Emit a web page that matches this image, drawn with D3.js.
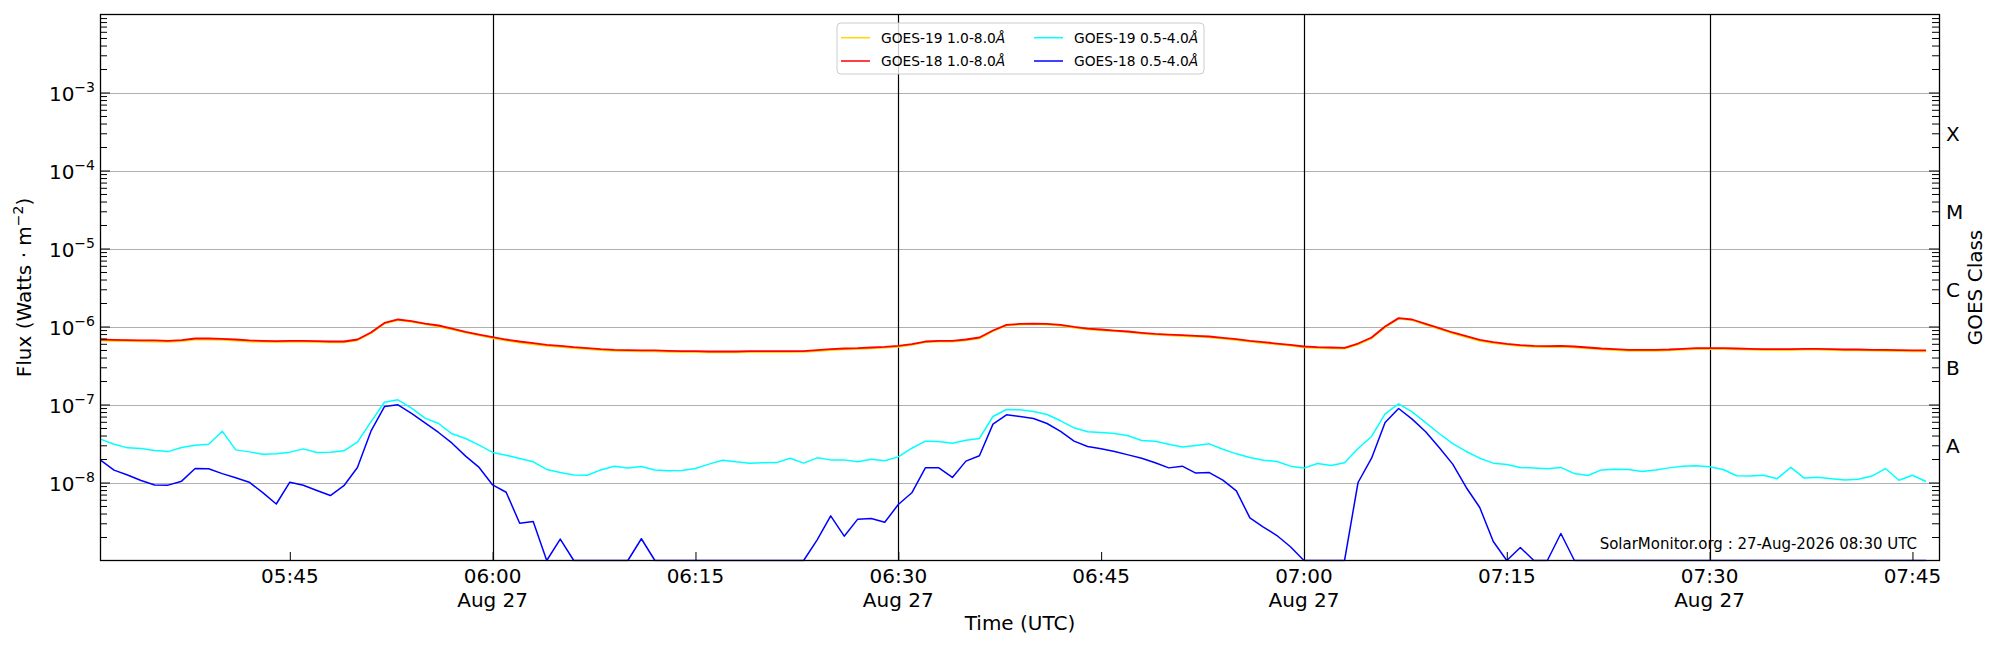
<!DOCTYPE html>
<html>
<head>
<meta charset="utf-8">
<script src="https://cdn.jsdelivr.net/npm/d3@7"></script>
<style>
body { margin: 0; background: #fff; }
svg { display: block; font-family: "DejaVu Sans", sans-serif; }
</style>
</head>
<body>
<svg id="chart" width="2000" height="650"></svg>
<script>
/* donnees : un point par minute a partir de 05:31 UTC */
var startTime = "2026-08-27T05:31:00Z";
var cadenceMin = 1;
var xDomain = ["2026-08-27T05:31:00Z", "2026-08-27T07:47:00Z"];
var yDomain = [1e-9, 1e-2];

var goes19Long = [
    6.60e-7, 6.55e-7, 6.50e-7, 6.45e-7, 6.40e-7, 6.35e-7, 6.50e-7, 6.80e-7, 6.80e-7, 6.75e-7,
    6.60e-7, 6.40e-7, 6.35e-7, 6.30e-7, 6.35e-7, 6.35e-7, 6.30e-7, 6.25e-7, 6.25e-7, 6.65e-7,
    8.20e-7, 1.09e-6, 1.21e-6, 1.15e-6, 1.07e-6, 1.00e-6, 9.20e-7, 8.35e-7, 7.70e-7, 7.10e-7,
    6.60e-7, 6.20e-7, 5.90e-7, 5.65e-7, 5.50e-7, 5.28e-7, 5.12e-7, 4.97e-7, 4.88e-7, 4.83e-7,
    4.79e-7, 4.79e-7, 4.74e-7, 4.70e-7, 4.70e-7, 4.65e-7, 4.65e-7, 4.65e-7, 4.70e-7, 4.70e-7,
    4.70e-7, 4.70e-7, 4.72e-7, 4.85e-7, 5.00e-7, 5.10e-7, 5.15e-7, 5.25e-7, 5.35e-7, 5.50e-7,
    5.80e-7, 6.30e-7, 6.40e-7, 6.40e-7, 6.65e-7, 7.05e-7, 8.70e-7, 1.03e-6, 1.06e-6, 1.07e-6,
    1.06e-6, 1.03e-6, 9.70e-7, 9.20e-7, 8.95e-7, 8.70e-7, 8.45e-7, 8.10e-7, 7.85e-7, 7.70e-7,
    7.55e-7, 7.40e-7, 7.25e-7, 6.98e-7, 6.70e-7, 6.38e-7, 6.13e-7, 5.90e-7, 5.67e-7, 5.40e-7,
    5.30e-7, 5.24e-7, 5.20e-7, 5.90e-7, 7.05e-7, 9.80e-7, 1.26e-6, 1.21e-6, 1.06e-6, 9.30e-7,
    8.18e-7, 7.33e-7, 6.56e-7, 6.13e-7, 5.84e-7, 5.62e-7, 5.50e-7, 5.46e-7, 5.50e-7, 5.40e-7,
    5.24e-7, 5.08e-7, 4.98e-7, 4.89e-7, 4.88e-7, 4.88e-7, 4.93e-7, 5.04e-7, 5.13e-7, 5.14e-7,
    5.14e-7, 5.10e-7, 5.06e-7, 5.00e-7, 5.00e-7, 5.00e-7, 5.05e-7, 5.05e-7, 5.00e-7, 4.95e-7,
    4.94e-7, 4.90e-7, 4.89e-7, 4.84e-7, 4.80e-7, 4.80e-7
];
var goes18Long = [
    6.81e-7, 6.74e-7, 6.68e-7, 6.62e-7, 6.62e-7, 6.55e-7, 6.68e-7, 7.02e-7, 7.02e-7, 6.95e-7,
    6.81e-7, 6.62e-7, 6.55e-7, 6.49e-7, 6.55e-7, 6.55e-7, 6.49e-7, 6.42e-7, 6.42e-7, 6.81e-7,
    8.38e-7, 1.11e-6, 1.23e-6, 1.17e-6, 1.09e-6, 1.03e-6, 9.42e-7, 8.55e-7, 7.89e-7, 7.30e-7,
    6.81e-7, 6.42e-7, 6.11e-7, 5.82e-7, 5.65e-7, 5.43e-7, 5.27e-7, 5.12e-7, 5.02e-7, 4.97e-7,
    4.93e-7, 4.93e-7, 4.88e-7, 4.83e-7, 4.83e-7, 4.78e-7, 4.78e-7, 4.78e-7, 4.83e-7, 4.83e-7,
    4.83e-7, 4.83e-7, 4.83e-7, 4.97e-7, 5.12e-7, 5.22e-7, 5.27e-7, 5.38e-7, 5.48e-7, 5.65e-7,
    5.94e-7, 6.42e-7, 6.55e-7, 6.55e-7, 6.81e-7, 7.23e-7, 8.88e-7, 1.05e-6, 1.08e-6, 1.09e-6,
    1.08e-6, 1.05e-6, 9.90e-7, 9.42e-7, 9.15e-7, 8.88e-7, 8.63e-7, 8.30e-7, 8.05e-7, 7.89e-7,
    7.74e-7, 7.59e-7, 7.44e-7, 7.16e-7, 6.89e-7, 6.55e-7, 6.30e-7, 6.05e-7, 5.82e-7, 5.54e-7,
    5.43e-7, 5.38e-7, 5.33e-7, 6.05e-7, 7.23e-7, 1.00e-6, 1.28e-6, 1.23e-6, 1.08e-6, 9.52e-7,
    8.38e-7, 7.52e-7, 6.74e-7, 6.30e-7, 6.00e-7, 5.77e-7, 5.65e-7, 5.60e-7, 5.65e-7, 5.54e-7,
    5.38e-7, 5.22e-7, 5.12e-7, 5.02e-7, 5.02e-7, 5.02e-7, 5.07e-7, 5.18e-7, 5.27e-7, 5.27e-7,
    5.27e-7, 5.22e-7, 5.18e-7, 5.12e-7, 5.12e-7, 5.12e-7, 5.18e-7, 5.18e-7, 5.12e-7, 5.07e-7,
    5.07e-7, 5.02e-7, 5.02e-7, 4.97e-7, 4.93e-7, 4.93e-7
];
var goes19Short = [
    3.60e-8, 3.10e-8, 2.78e-8, 2.73e-8, 2.57e-8, 2.49e-8, 2.81e-8, 3.01e-8, 3.10e-8, 4.55e-8,
    2.62e-8, 2.47e-8, 2.31e-8, 2.33e-8, 2.45e-8, 2.70e-8, 2.43e-8, 2.45e-8, 2.55e-8, 3.29e-8,
    6.00e-8, 1.07e-7, 1.15e-7, 8.97e-8, 6.68e-8, 5.71e-8, 4.21e-8, 3.66e-8, 3.01e-8, 2.43e-8,
    2.24e-8, 2.03e-8, 1.84e-8, 1.47e-8, 1.34e-8, 1.25e-8, 1.24e-8, 1.45e-8, 1.62e-8, 1.53e-8,
    1.60e-8, 1.45e-8, 1.41e-8, 1.43e-8, 1.51e-8, 1.72e-8, 1.93e-8, 1.84e-8, 1.77e-8, 1.79e-8,
    1.80e-8, 2.05e-8, 1.77e-8, 2.07e-8, 1.95e-8, 1.95e-8, 1.84e-8, 1.99e-8, 1.90e-8, 2.13e-8,
    2.75e-8, 3.39e-8, 3.36e-8, 3.19e-8, 3.49e-8, 3.67e-8, 7.02e-8, 8.63e-8, 8.55e-8, 8.13e-8,
    7.44e-8, 6.18e-8, 5.02e-8, 4.47e-8, 4.38e-8, 4.25e-8, 3.97e-8, 3.45e-8, 3.39e-8, 3.10e-8,
    2.86e-8, 2.98e-8, 3.13e-8, 2.67e-8, 2.33e-8, 2.09e-8, 1.93e-8, 1.86e-8, 1.62e-8, 1.53e-8,
    1.75e-8, 1.65e-8, 1.79e-8, 2.73e-8, 3.89e-8, 7.59e-8, 1.02e-7, 8.05e-8, 5.87e-8, 4.25e-8,
    3.16e-8, 2.50e-8, 2.05e-8, 1.77e-8, 1.70e-8, 1.56e-8, 1.53e-8, 1.50e-8, 1.56e-8, 1.30e-8,
    1.23e-8, 1.45e-8, 1.48e-8, 1.47e-8, 1.38e-8, 1.45e-8, 1.54e-8, 1.62e-8, 1.64e-8, 1.59e-8,
    1.47e-8, 1.22e-8, 1.21e-8, 1.24e-8, 1.12e-8, 1.56e-8, 1.14e-8, 1.17e-8, 1.12e-8, 1.08e-8,
    1.10e-8, 1.21e-8, 1.51e-8, 1.07e-8, 1.24e-8, 1.03e-8
];
var goes18Short = [
    1.93e-8, 1.44e-8, 1.25e-8, 1.06e-8, 9.30e-9, 9.25e-9, 1.04e-8, 1.51e-8, 1.50e-8, 1.30e-8,
    1.15e-8, 1.01e-8, 7.40e-9, 5.30e-9, 1.01e-8, 9.20e-9, 7.90e-9, 6.80e-9, 9.10e-9, 1.56e-8,
    4.55e-8, 9.40e-8, 9.90e-8, 7.70e-8, 5.80e-8, 4.38e-8, 3.19e-8, 2.18e-8, 1.56e-8, 9.30e-9,
    7.50e-9, 3.00e-9, 3.16e-9, 1.00e-9, 1.88e-9, 1.00e-9, 1.00e-9, 1.00e-9, 1.00e-9, 1.00e-9,
    1.90e-9, 1.00e-9, 1.00e-9, 1.00e-9, 1.00e-9, 1.00e-9, 1.00e-9, 1.00e-9, 1.00e-9, 1.00e-9,
    1.00e-9, 1.00e-9, 1.00e-9, 1.84e-9, 3.74e-9, 2.05e-9, 3.39e-9, 3.45e-9, 3.10e-9, 5.22e-9,
    7.38e-9, 1.54e-8, 1.54e-8, 1.16e-8, 1.88e-8, 2.20e-8, 5.60e-8, 7.38e-8, 7.02e-8, 6.62e-8,
    5.71e-8, 4.51e-8, 3.39e-8, 2.90e-8, 2.70e-8, 2.50e-8, 2.26e-8, 2.05e-8, 1.79e-8, 1.54e-8,
    1.62e-8, 1.32e-8, 1.34e-8, 1.07e-8, 7.82e-9, 3.52e-9, 2.68e-9, 2.09e-9, 1.50e-9, 1.00e-9,
    1.00e-9, 1.00e-9, 1.00e-9, 1.00e-8, 2.05e-8, 5.87e-8, 8.89e-8, 6.49e-8, 4.47e-8, 2.81e-8,
    1.72e-8, 8.63e-9, 4.78e-9, 1.75e-9, 1.00e-9, 1.47e-9, 1.00e-9, 1.00e-9, 2.22e-9, 1.00e-9,
    1.00e-9, 1.00e-9, 1.00e-9, 1.00e-9, 1.00e-9, 1.00e-9, 1.00e-9, 1.00e-9, 1.00e-9, 1.00e-9,
    1.00e-9, 1.00e-9, 1.00e-9, 1.00e-9, 1.00e-9, 1.00e-9, 1.00e-9, 1.00e-9, 1.00e-9, 1.00e-9,
    1.00e-9, 1.00e-9, 1.00e-9, 1.00e-9, 1.00e-9, 1.00e-9
];

var seriesNames = ["GOES-19 1.0-8.0", "GOES-18 1.0-8.0", "GOES-19 0.5-4.0", "GOES-18 0.5-4.0"];
var seriesColors = ["#ffd700", "#ff0000", "#00ffff", "#0000ff"];
var seriesValues = [goes19Long, goes18Long, goes19Short, goes18Short];

var yDecades = [1e-8, 1e-7, 1e-6, 1e-5, 1e-4, 1e-3];
var classLabels = ["A", "B", "C", "M", "X"];
var classValues = [3.16e-8, 3.16e-7, 3.16e-6, 3.16e-5, 3.16e-4];
var vLineTimes = ["2026-08-27T06:00:00Z", "2026-08-27T06:30:00Z", "2026-08-27T07:00:00Z", "2026-08-27T07:30:00Z"];
var stampText = "SolarMonitor.org : 27-Aug-2026 08:30 UTC";

/* zone du graphique */
var svg = d3.select("#chart");
var x0 = 100.5, x1 = 1939.5, y0 = 14.5, y1 = 560.5;

var xScale = d3.scaleUtc()
    .domain(xDomain.map(function (d) { return new Date(d); }))
    .range([x0, x1]);
var yScale = d3.scaleLog()
    .domain(yDomain)
    .range([y1, y0]);

var t0 = new Date(startTime).getTime();
function timeOf(i) {
    return new Date(t0 + i * cadenceMin * 60000);
}

svg.append("rect")
    .attr("width", 2000)
    .attr("height", 650)
    .attr("fill", "#fff");

svg.append("defs").append("clipPath")
    .attr("id", "plotclip")
    .append("rect")
    .attr("x", x0)
    .attr("y", y0)
    .attr("width", x1 - x0)
    .attr("height", y1 - y0 + 1);

/* lignes de grille horizontales aux decades */
svg.append("g").selectAll("line")
    .data(yDecades)
    .enter()
    .append("line")
    .attr("x1", x0)
    .attr("x2", x1)
    .attr("y1", function (d) { return Math.round(yScale(d)) + 0.5; })
    .attr("y2", function (d) { return Math.round(yScale(d)) + 0.5; })
    .attr("stroke", "#b0b0b0")
    .attr("stroke-width", 1);

/* lignes verticales toutes les 30 minutes */
svg.append("g").selectAll("line")
    .data(vLineTimes)
    .enter()
    .append("line")
    .attr("x1", function (d) { return Math.round(xScale(new Date(d))) + 0.5; })
    .attr("x2", function (d) { return Math.round(xScale(new Date(d))) + 0.5; })
    .attr("y1", y0)
    .attr("y2", y1)
    .attr("stroke", "#000")
    .attr("stroke-width", 1.2);

/* courbes des flux */
var line = d3.line()
    .x(function (d, i) { return xScale(timeOf(i)); })
    .y(function (d) { return yScale(d); });

svg.append("g")
    .attr("clip-path", "url(#plotclip)")
    .selectAll("path")
    .data(seriesValues)
    .enter()
    .append("path")
    .attr("d", function (d) { return line(d); })
    .attr("fill", "none")
    .attr("stroke", function (d, i) { return seriesColors[i]; })
    .attr("stroke-width", function (d, i) { return i < 2 ? 1.8 : 1.5; })
    .attr("stroke-linejoin", "round");

/* graduations vers l'interieur */
var minorTicks = yScale.ticks().filter(function (d) {
    var l = Math.log10(d);
    return Math.abs(l - Math.round(l)) > 1e-6;
});

function addAxis(axis, tx, ty) {
    var g = svg.append("g")
        .attr("transform", "translate(" + tx + "," + ty + ")")
        .call(axis);
    g.select(".domain").remove();
    g.selectAll("text").remove();
    g.selectAll("line").attr("stroke", "#000");
    return g;
}
addAxis(d3.axisLeft(yScale).tickValues(yDecades).tickSizeInner(-10).tickSizeOuter(0), x0 - 0.5, 0);
addAxis(d3.axisLeft(yScale).tickValues(minorTicks).tickSizeInner(-7).tickSizeOuter(0), x0 - 0.5, 0);
addAxis(d3.axisRight(yScale).tickValues(yDecades).tickSizeInner(-10).tickSizeOuter(0), x1 - 0.5, 0);
addAxis(d3.axisRight(yScale).tickValues(minorTicks).tickSizeInner(-7).tickSizeOuter(0), x1 - 0.5, 0);

var xTicks = xScale.ticks(d3.utcMinute.every(15));
addAxis(d3.axisBottom(xScale).tickValues(xTicks).tickSizeInner(-8).tickSizeOuter(0), 0, y1 - 0.5);

/* cadre */
svg.append("rect")
    .attr("x", x0)
    .attr("y", y0)
    .attr("width", x1 - x0)
    .attr("height", y1 - y0)
    .attr("fill", "none")
    .attr("stroke", "#000")
    .attr("stroke-width", 1.3);

/* etiquettes de l'axe y : 10^n */
svg.append("g").selectAll("text")
    .data(yDecades)
    .enter()
    .append("text")
    .attr("x", 95)
    .attr("y", function (d) { return yScale(d) + 8; })
    .attr("text-anchor", "end")
    .attr("font-size", 20)
    .each(function (d) {
        var t = d3.select(this);
        t.append("tspan").text("10");
        t.append("tspan")
            .attr("dy", -9)
            .attr("font-size", 14)
            .text("\u2212" + Math.abs(Math.round(Math.log10(d))));
    });

/* etiquettes de l'axe x : heure, et date toutes les 30 minutes */
var fmtHour = d3.utcFormat("%H:%M");
var fmtDay = d3.utcFormat("%b %d");
svg.append("g").selectAll("text")
    .data(xTicks)
    .enter()
    .append("text")
    .attr("x", function (d) { return xScale(d); })
    .attr("y", 583)
    .attr("text-anchor", "middle")
    .attr("font-size", 20)
    .each(function (d) {
        var t = d3.select(this);
        t.append("tspan").text(fmtHour(d));
        if (d.getUTCMinutes() % 30 === 0) {
            t.append("tspan")
                .attr("x", xScale(d))
                .attr("dy", 24)
                .text(fmtDay(d));
        }
    });

svg.append("text")
    .attr("x", (x0 + x1) / 2)
    .attr("y", 630)
    .attr("text-anchor", "middle")
    .attr("font-size", 20)
    .text("Time (UTC)");

/* titre axe y */
var ylab = svg.append("text")
    .attr("transform", "translate(31," + (y0 + y1) / 2 + ") rotate(-90)")
    .attr("text-anchor", "middle")
    .attr("font-size", 20);
ylab.append("tspan").text("Flux (Watts \u00b7 m");
ylab.append("tspan").attr("dy", -8).attr("font-size", 14).text("\u22122");
ylab.append("tspan").attr("dy", 8).text(")");

/* axe de droite : classes GOES */
svg.append("g").selectAll("text")
    .data(classValues)
    .enter()
    .append("text")
    .attr("x", 1946)
    .attr("y", function (d) { return yScale(d) + 9.5; })
    .attr("font-size", 20)
    .text(function (d, i) { return classLabels[i]; });

svg.append("text")
    .attr("transform", "translate(1982," + (y0 + y1) / 2 + ") rotate(-90)")
    .attr("text-anchor", "middle")
    .attr("font-size", 20)
    .text("GOES Class");

/* legende sur deux colonnes */
var legend = svg.append("g");
legend.append("rect")
    .attr("x", 837)
    .attr("y", 23)
    .attr("width", 367)
    .attr("height", 51)
    .attr("rx", 4)
    .attr("fill", "#fff")
    .attr("fill-opacity", 0.8)
    .attr("stroke", "#cccccc")
    .attr("stroke-width", 1);

var legendPos = [[841, 37.7], [841, 61], [1034, 37.7], [1034, 61]];
seriesNames.forEach(function (name, i) {
    var px = legendPos[i][0], py = legendPos[i][1];
    legend.append("line")
        .attr("x1", px)
        .attr("x2", px + 29)
        .attr("y1", py)
        .attr("y2", py)
        .attr("stroke", seriesColors[i])
        .attr("stroke-width", 1.5);
    var t = legend.append("text")
        .attr("x", px + 40)
        .attr("y", py + 5)
        .attr("font-size", 13.8);
    t.append("tspan").text(name);
    t.append("tspan").attr("font-style", "italic").text("\u00c5");
});

/* signature */
svg.append("text")
    .attr("x", 1917)
    .attr("y", 549)
    .attr("text-anchor", "end")
    .attr("font-size", 15)
    .text(stampText);
</script>
</body>
</html>
